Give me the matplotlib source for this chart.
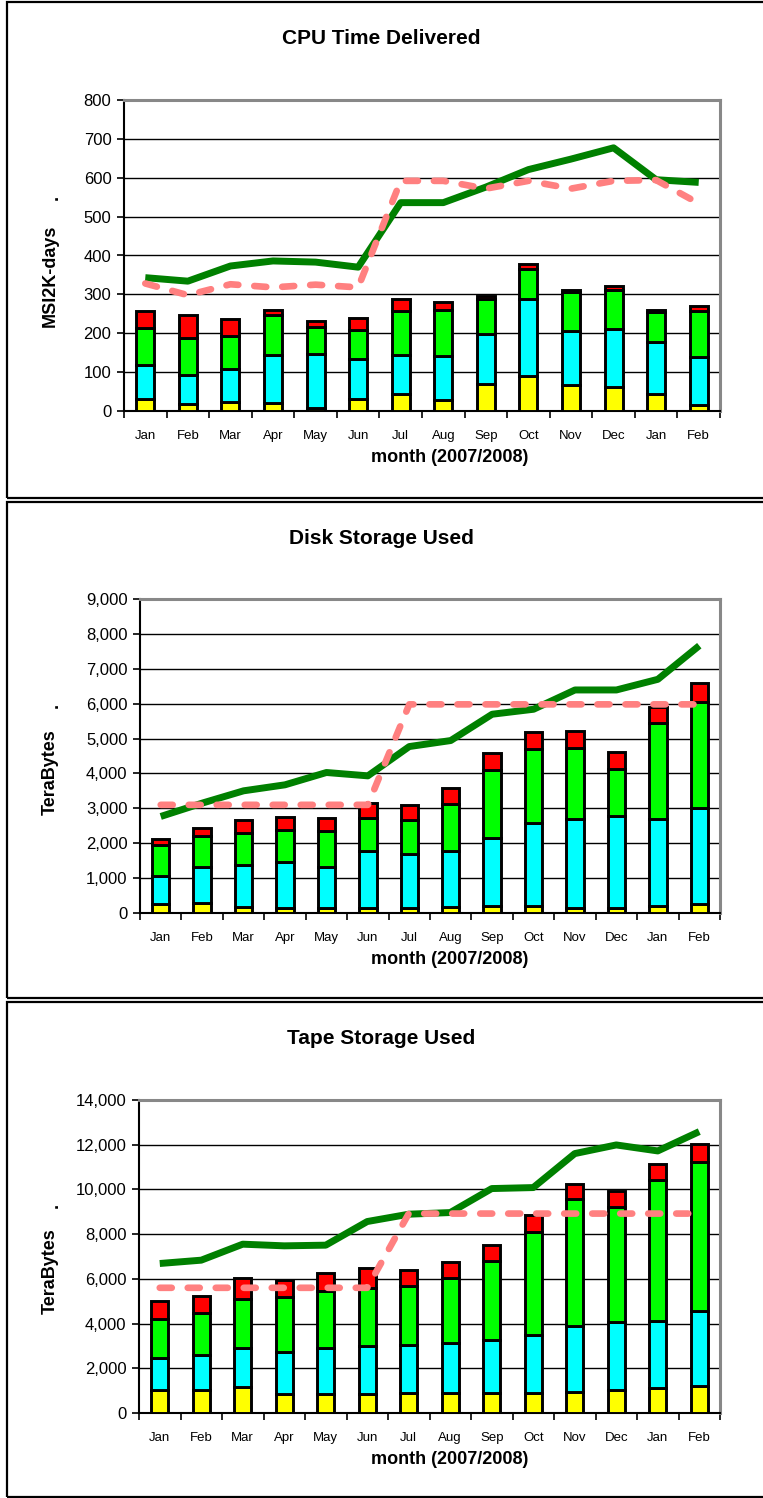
import numpy as np
import matplotlib
matplotlib.use("Agg")
import matplotlib.pyplot as plt
from matplotlib.patches import Rectangle
from matplotlib.ticker import FuncFormatter, FixedLocator

plt.rcParams["font.family"] = ["Liberation Sans", "DejaVu Sans"]

months = ["Jan", "Feb", "Mar", "Apr", "May", "Jun", "Jul", "Aug",
          "Sep", "Oct", "Nov", "Dec", "Jan", "Feb"]

# CPU time delivered (MSI2K-days), stacked segment values
cpu_yellow = [30, 18, 22, 21, 8, 32, 43, 28, 69, 91, 67, 62, 43, 16]
cpu_cyan = [88, 74, 86, 123, 139, 101, 102, 114, 128, 198, 139, 150, 135, 122]
cpu_green = [96, 97, 85, 102, 69, 76, 112, 117, 91, 76, 100, 100, 76, 118]
cpu_red = [44, 59, 43, 14, 15, 31, 32, 21, 8, 13, 4, 9, 7, 13]
cpu_pledge = [328, 298, 326, 318, 325, 318, 592, 592, 572, 592, 572, 592, 594, 534]
cpu_request = [343, 334, 373, 386, 383, 370, 536, 536, 576, 621, 648, 677, 595, 588]

# Disk storage used (TeraBytes)
disk_yellow = [257, 286, 181, 143, 143, 133, 133, 162, 190, 190, 152, 143, 210, 257]
disk_cyan = [791, 1028, 1181, 1305, 1171, 1657, 1562, 1619, 1953, 2381, 2534, 2647, 2476, 2743]
disk_green = [895, 896, 943, 923, 1048, 934, 981, 1343, 1960, 2124, 2056, 1332, 2772, 3059]
disk_red = [190, 219, 371, 381, 371, 419, 410, 457, 477, 486, 487, 506, 439, 525]
disk_pledge = [3100, 3100, 3100, 3100, 3100, 3100, 5980, 5980, 5980, 5980, 5980, 5980, 5980, 5980]
disk_request = [2767, 3149, 3502, 3674, 4027, 3931, 4771, 4943, 5697, 5840, 6393, 6393, 6698, 7662]

# Tape storage used (TeraBytes)
tape_yellow = [1028, 1028, 1147, 849, 849, 849, 879, 879, 879, 879, 953, 1028, 1102, 1221]
tape_cyan = [1429, 1578, 1757, 1891, 2055, 2160, 2174, 2234, 2383, 2606, 2949, 3053, 2994, 3322]
tape_green = [1743, 1847, 2190, 2458, 2562, 2576, 2607, 2919, 3515, 4632, 5675, 5139, 6315, 6702]
tape_red = [789, 775, 938, 760, 775, 879, 730, 730, 730, 745, 685, 714, 715, 804]
tape_pledge = [5600, 5600, 5600, 5600, 5600, 5600, 8920, 8920, 8920, 8920, 8920, 8920, 8920, 8920]
tape_request = [6687, 6836, 7551, 7477, 7507, 8564, 8892, 8966, 10039, 10083, 11603, 11990, 11722, 12586]

W, H = 763, 1498
fig = plt.figure(figsize=(W / 100, H / 100), dpi=100)


def px_axes(left, top, right, bottom):
    return fig.add_axes([left / W, 1 - bottom / H, (right - left) / W, (bottom - top) / H])


def panel(ax, segs, pledge, request, ymax, step, commas):
    x = np.arange(len(months))
    bottom = np.zeros(len(months))
    for vals, col in zip(segs, ["#FFFF00", "#00FFFF", "#00FF00", "#FF0000"]):
        ax.bar(x, vals, width=0.42, bottom=bottom, color=col, edgecolor="black",
               linewidth=2.1, zorder=3)
        bottom += np.array(vals)
    ax.plot(x, request, color="#008000", lw=5, zorder=4, solid_capstyle="butt")
    ax.plot(x, pledge, color="#FF8080", lw=4.8, zorder=5, dashes=(1.8, 2.4),
            dash_capstyle="round")
    ax.set_xlim(-0.5, len(months) - 0.5)
    ax.set_ylim(0, ymax)
    ax.yaxis.set_major_locator(FixedLocator(np.arange(0, ymax + 1, step)))
    if commas:
        ax.yaxis.set_major_formatter(FuncFormatter(lambda v, p: f"{int(v):,}"))
    ax.grid(axis="y", color="black", lw=1.0, zorder=0)
    ax.set_axisbelow(True)
    ax.set_xticks(x)
    ax.set_xticklabels(months, fontsize=9.5)
    ax.set_xticks(np.arange(-0.5, len(months)), minor=True)
    ax.tick_params(axis="x", which="major", length=0, pad=14)
    ax.tick_params(axis="x", which="minor", length=5, width=1.2, direction="out")
    ax.tick_params(axis="y", length=5, width=1.2, labelsize=12, pad=4)
    for s in ["left", "bottom"]:
        ax.spines[s].set_color("black")
        ax.spines[s].set_linewidth(1.5)
    for s in ["top", "right"]:
        ax.spines[s].set_color("#888888")
        ax.spines[s].set_linewidth(2.2)


panels = [
    dict(frame=(1.5, 498), plot=(124, 100, 720, 411), title="CPU Time Delivered",
         ylabel="MSI2K-days", segs=[cpu_yellow, cpu_cyan, cpu_green, cpu_red],
         pledge=cpu_pledge, request=cpu_request, ymax=800, step=100, commas=False,
         ylab_y=276, dot=(53, 197)),
    dict(frame=(502, 998), plot=(140, 599, 720, 913), title="Disk Storage Used",
         ylabel="TeraBytes", segs=[disk_yellow, disk_cyan, disk_green, disk_red],
         pledge=disk_pledge, request=disk_request, ymax=9000, step=1000, commas=True,
         ylab_y=772, dot=(53, 705)),
    dict(frame=(1002, 1497), plot=(139, 1100, 720, 1413), title="Tape Storage Used",
         ylabel="TeraBytes", segs=[tape_yellow, tape_cyan, tape_green, tape_red],
         pledge=tape_pledge, request=tape_request, ymax=14000, step=2000, commas=True,
         ylab_y=1271, dot=(53, 1205)),
]

for p in panels:
    top, bot = p["frame"]
    fig.patches.append(Rectangle((6.5 / W, 1 - bot / H), 1.0, (bot - top) / H,
                                 transform=fig.transFigure, fill=False,
                                 edgecolor="black", lw=1.6))
    ax = px_axes(*p["plot"])
    panel(ax, p["segs"], p["pledge"], p["request"], p["ymax"], p["step"], p["commas"])
    fig.text(381 / W, 1 - (top + 37) / H, p["title"], ha="center", va="center",
             fontsize=15, fontweight="bold")
    fig.text(450 / W, 1 - (p["plot"][3] + 46) / H, "month (2007/2008)", ha="center",
             va="center", fontsize=13, fontweight="bold")
    fig.text(50 / W, 1 - p["ylab_y"] / H, p["ylabel"], ha="center", va="center",
             rotation=90, fontsize=13, fontweight="bold")
    fig.text(p["dot"][0] / W, 1 - p["dot"][1] / H, ".", ha="center", va="center",
             rotation=90, fontsize=13, fontweight="bold")

fig.savefig("out.png", dpi=100)
